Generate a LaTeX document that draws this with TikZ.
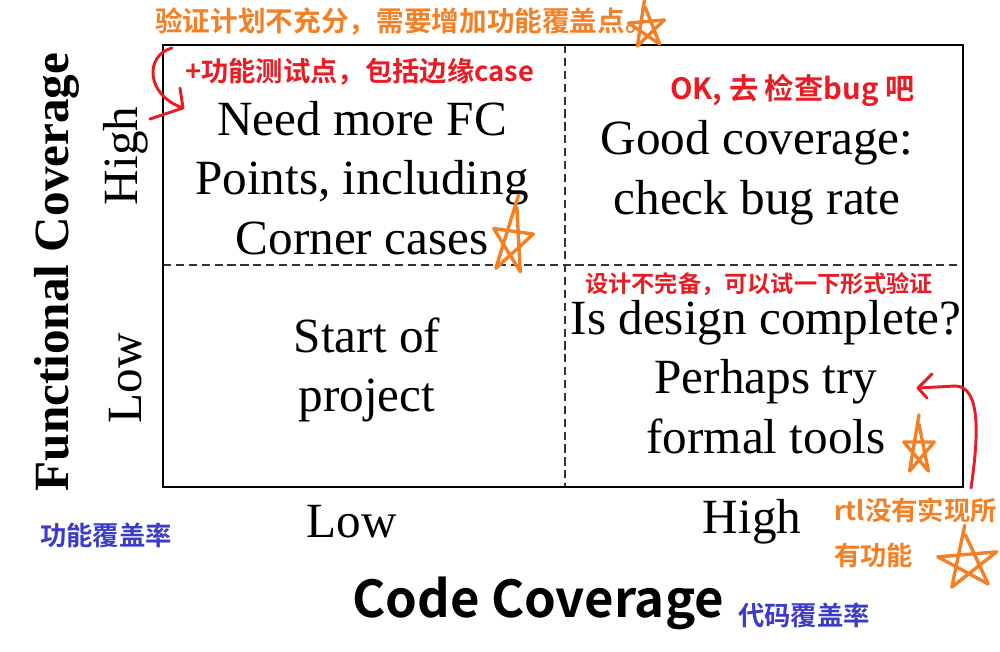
\documentclass[tikz,border=0pt]{standalone}
\usepackage{fontspec}
\setmainfont{Liberation Serif}
\newfontfamily\cjk{Noto Sans CJK SC}[BoldFont={* Bold}]
\usetikzlibrary{arrows.meta}
\definecolor{anorange}{RGB}{244,128,38}
\definecolor{anred}{RGB}{232,28,36}
\definecolor{anblue}{RGB}{60,60,200}
\tikzset{
  quad/.style={align=center,font=\fontsize{42}{51}\selectfont,inner sep=0pt},
  axlab/.style={font=\fontsize{42}{51}\selectfont,inner sep=0pt},
  frame/.style={line width=2.5pt},
  divider/.style={line width=1.6pt,dash pattern=on 7pt off 4pt,black!80},
  cjkorange/.style={text=anorange,font=\cjk\bfseries\fontsize{23.6}{27}\selectfont,inner sep=0pt},
  cjkred/.style={text=anred,font=\cjk\bfseries\fontsize{23.3}{27}\selectfont,inner sep=0pt},
  cjkblue/.style={text=anblue,font=\cjk\bfseries\fontsize{22.5}{26}\selectfont,inner sep=0pt},
  starline/.style={draw=anorange,line width=2.9pt,line cap=round,line join=round},
  redpen/.style={draw=anred,line width=2.5pt,line cap=round,line join=round},
}
\newcommand{\penstar}[5]{% x y sx sy rot
  \draw[starline,shift={(#1,#2)},rotate=#5,xscale=#3,yscale=#4]
    (270:1) -- (54:1) -- (198:1) -- (342:1) -- (126:1) -- (270:1.35);}
\begin{document}
\begin{tikzpicture}[x=0.3mm,y=-0.3mm]
\useasboundingbox (0,0) rectangle (1000,652);
\fill[white] (0,0) rectangle (1000,652);
% frame
\coordinate (tl) at (163,45);
\coordinate (br) at (963,487);
\coordinate (mt) at (565,45);
\coordinate (mb) at (565,487);
\coordinate (ml) at (163,265);
\coordinate (mr) at (963,265);
\draw[divider] (mt) -- (mb);
\draw[divider] (ml) -- (mr);
\draw[frame] (tl) rectangle (br);
% quadrant texts
\node[quad] (q1) at (362,178) {Need more FC\\Points, including\\Corner cases};
\node[quad] (q2) at (757,173) {Good coverage:\\check bug rate};
\node[quad] (q3) at (367,370) {Start of\\project};
\node[quad] (q4) at (766,377) {Is design complete?\\Perhaps try\\formal tools};
% axis labels
\node[axlab,rotate=90] (yh) at (126,156) {High};
\node[axlab,rotate=90] (yl) at (126,378) {Low};
\node[axlab] (xl) at (352,522) {Low};
\node[axlab] (xh) at (752,522) {High};
\node[font=\bfseries\fontsize{42}{51}\selectfont,inner sep=0pt,rotate=90] (ytitle) at (57,272) {Functional Coverage};
\node[font=\cjk\bfseries\fontsize{43.4}{52}\selectfont,inner sep=0pt] (xtitle) at (538,603) {Code Coverage};
% annotations
\node[cjkorange,anchor=west] (a1) at (155,22) {验证计划不充分，需要增加功能覆盖点。};
\node[cjkred,anchor=west] (a2) at (185,72) {+功能测试点，包括边缘case};
\node[cjkred,font=\cjk\bfseries\fontsize{25}{30}\selectfont,anchor=west] (a3) at (670,90) {OK, 去 检查bug 吧};
\node[cjkred,font=\cjk\bfseries\fontsize{19.8}{23}\selectfont,anchor=west] (a4) at (585,284) {设计不完备，可以试一下形式验证};
\node[cjkorange,anchor=west,font=\cjk\bfseries\fontsize{22.5}{26}\selectfont] (a5) at (834,510) {rtl没有实现所};
\node[cjkorange,anchor=west,font=\cjk\bfseries\fontsize{22.5}{26}\selectfont] (a6) at (834,555) {有功能};
\node[cjkblue,anchor=west] (a7) at (40,535) {功能覆盖率};
\node[cjkblue,anchor=west] (a8) at (738,615) {代码覆盖率};
% red pen arrows
\coordinate (p1) at (172,48);
\coordinate (p2) at (183,108);
\draw[redpen] (p1) .. controls (145,55) and (145,95) .. (p2);
\draw[redpen] (180,88) -- (p2) -- (150,119);
\coordinate (r1) at (971,488);
\coordinate (r2) at (918,388);
\draw[redpen] (r1) .. controls (978,440) and (982,386) .. (955,386) -- (r2);
\draw[redpen] (932,374) -- (r2) -- (927,398);
% stars
\penstar{647}{28}{19}{21}{5}
\penstar{512}{242}{21}{35}{-8}
\penstar{919}{450}{16}{26}{0}
\penstar{968}{563}{31}{28}{5}
\end{tikzpicture}
\end{document}
